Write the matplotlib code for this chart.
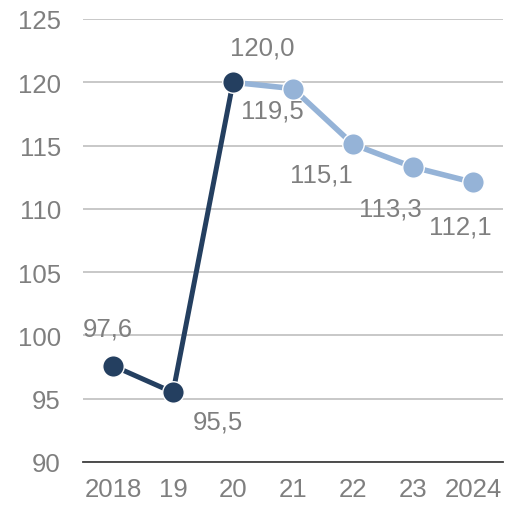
import matplotlib
matplotlib.use("Agg")
import matplotlib.pyplot as plt

categories = ["2018", "19", "20", "21", "22", "23", "2024"]
values = [97.6, 95.5, 120.0, 119.5, 115.1, 113.3, 112.1]
labels = ["97,6", "95,5", "120,0", "119,5", "115,1", "113,3", "112,1"]
yticks = [90, 95, 100, 105, 110, 115, 120, 125]

dark = "#243F60"
light = "#95B3D7"
grey = "#7F7F7F"

plt.rcParams['font.family'] = ['Liberation Sans', 'DejaVu Sans']
fig = plt.figure(figsize=(5.12, 5.06), dpi=100)
ax = fig.add_axes([83/512, 43/506, 420/512, 443/506])

x = list(range(len(categories)))
ax.plot(x[2:], values[2:], color=light, lw=4, marker='o', ms=15.5,
        mec='white', mew=1, zorder=3)
ax.plot(x[:3], values[:3], color=dark, lw=3.6, marker='o', ms=15.5,
        mec='white', mew=1, zorder=4)

offsets = [(-4, 27), (32, -21), (21, 25), (-15, -16), (-23, -22), (-16, -30), (-9, -32)]
for xi, v, l, (dx, dy) in zip(x, values, labels, offsets):
    ax.annotate(l, (xi, v), xytext=(dx, dy), textcoords='offset points',
                ha='center', va='center', fontsize=18.5, color=grey, zorder=5)

ax.set_xlim(-0.5, 6.5)
ax.set_ylim(90, 125)
ax.set_yticks(yticks)
ax.set_xticks(x)
ax.set_xticklabels(categories)
ax.tick_params(axis='both', length=0, labelsize=18.5, labelcolor=grey)
ax.tick_params(axis='y', pad=16)
ax.tick_params(axis='x', pad=11)
ax.grid(axis='y', color='#BFBFBF', lw=1.2)
ax.set_axisbelow(True)
for s in ['top', 'right', 'left']:
    ax.spines[s].set_visible(False)
ax.spines['bottom'].set_color('#404040')
ax.spines['bottom'].set_linewidth(1.3)

fig.savefig("out.png", dpi=100)
